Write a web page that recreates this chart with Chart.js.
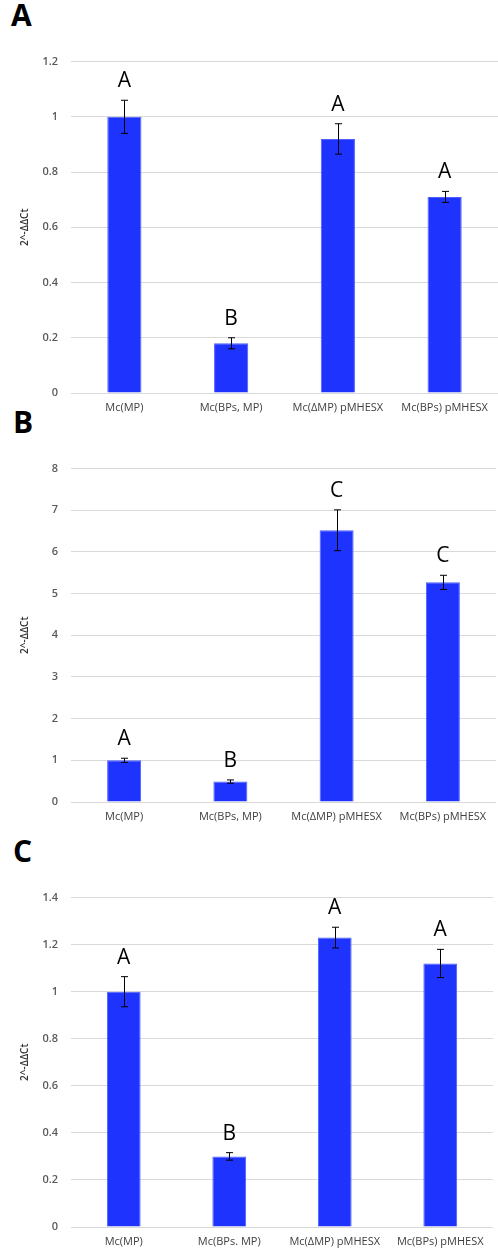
<!DOCTYPE html>
<html>
<head>
<meta charset="utf-8">
<script src="https://cdn.jsdelivr.net/npm/chart.js@4"></script>
<style>
  body { margin: 0; background: #fff; width: 498px; height: 1253px; position: relative; overflow: hidden; }
  .panel { position: absolute; left: 0; width: 498px; }
  .letra { position: absolute; font: bold 30px "Open Sans", "Liberation Sans", sans-serif; color: #000; }
</style>
</head>
<body>
<div class="letra" style="left:11px;top:-6px">A</div>
<div class="letra" style="left:13px;top:401px">B</div>
<div class="letra" style="left:13px;top:830px">C</div>
<div class="panel" style="top:42px;height:381px"><canvas id="graficoA"></canvas></div>
<div class="panel" style="top:449px;height:383px"><canvas id="graficoB"></canvas></div>
<div class="panel" style="top:878px;height:375px"><canvas id="graficoC"></canvas></div>
<script>
// Categorias (as mesmas nos três painéis)
const categorias = ["Mc(MP)", "Mc(BPs, MP)", "Mc(ΔMP) pMHESX", "Mc(BPs) pMHESX"];
const categoriasC = ["Mc(MP)", "Mc(BPs. MP)", "Mc(ΔMP) pMHESX", "Mc(BPs) pMHESX"];

// Painel A
const valoresA = [1.0, 0.18, 0.92, 0.71];
const errosA = [0.06, 0.02, 0.055, 0.02];
const letrasA = ["A", "B", "A", "A"];

// Painel B
const valoresB = [1.0, 0.49, 6.52, 5.27];
const errosB = [0.05, 0.04, 0.49, 0.17];
const letrasB = ["A", "B", "C", "C"];

// Painel C
const valoresC = [1.0, 0.3, 1.23, 1.12];
const errosC = [0.064, 0.016, 0.044, 0.06];
const letrasC = ["A", "B", "A", "A"];

const tituloY = "2^-ΔΔCt";

// Plugin simples para barras de erro e letras de significância
const pluginErros = {
    id: "erros",
    afterDatasetsDraw(chart, args, opts) {
        const ctx = chart.ctx;
        const meta = chart.getDatasetMeta(0);
        const y = chart.scales.y;
        ctx.save();
        meta.data.forEach((barra, i) => {
            const v = chart.data.datasets[0].data[i];
            const e = opts.erros[i];
            const yTop = y.getPixelForValue(v + e);
            const yBot = y.getPixelForValue(v - e);
            const x = Math.round(barra.x) + 0.5;
            ctx.strokeStyle = "#000";
            ctx.lineWidth = 1;
            ctx.beginPath();
            ctx.moveTo(x, yTop); ctx.lineTo(x, yBot);
            ctx.moveTo(x - 3.5, yTop); ctx.lineTo(x + 3.5, yTop);
            ctx.moveTo(x - 3.5, yBot); ctx.lineTo(x + 3.5, yBot);
            ctx.stroke();
            // letra acima da barra de erro
            ctx.fillStyle = "#000";
            ctx.font = '21px "Open Sans", "Liberation Sans", sans-serif';
            ctx.textAlign = "center";
            ctx.textBaseline = "alphabetic";
            ctx.fillText(opts.letras[i], barra.x, yTop - 13);
        });
        ctx.restore();
    }
};

function criaGrafico(id, labels, valores, erros, letras, maximo, passo, padDireita, alturaX) {
    const config = {
        type: "bar",
        data: {
            labels: labels,
            datasets: [{
                data: valores,
                backgroundColor: "#1f33ff",
                borderColor: "#4d5fff",
                borderWidth: 1,
                barPercentage: 0.32,
                categoryPercentage: 1
            }]
        },
        options: {
            responsive: true,
            maintainAspectRatio: false,
            animation: false,
            layout: { padding: { top: 10, right: padDireita, left: 0, bottom: 0 } },
            plugins: {
                legend: { display: false },
                tooltip: { enabled: false },
                erros: { erros: erros, letras: letras }
            },
            scales: {
                x: {
                    grid: { display: false, drawTicks: false },
                    border: { display: false },
                    ticks: {
                        color: "#404040",
                        font: { family: '"Open Sans", sans-serif', size: 11 },
                        maxRotation: 0,
                        autoSkip: false,
                        padding: 8
                    },
                    afterFit(scale) { scale.height = alturaX; }
                },
                y: {
                    min: 0,
                    max: maximo,
                    grid: { color: "#d9d9d9", lineWidth: 1, drawTicks: false },
                    border: { display: false },
                    ticks: {
                        stepSize: passo,
                        color: "#595959",
                        font: { family: '"Open Sans", sans-serif', size: 11, weight: "600" },
                        padding: 13,
                        // estilo do Excel: "1" em vez de "1.0"
                        callback: (v) => String(Number(v.toFixed(2)))
                    },
                    title: {
                        display: true,
                        text: tituloY,
                        color: "#333",
                        font: { family: '"Open Sans", sans-serif', size: 10, weight: "600" },
                        padding: { top: 19, bottom: 0 }
                    },
                    afterFit(scale) { scale.width = 71; }
                }
            }
        },
        plugins: [pluginErros]
    };
    return new Chart(document.getElementById(id).getContext("2d"), config);
}

criaGrafico("graficoA", categorias, valoresA, errosA, letrasA, 1.2, 0.2, 0, 30);
criaGrafico("graficoB", categorias, valoresB, errosB, letrasB, 8, 1, 2, 30);
criaGrafico("graficoC", categoriasC, valoresC, errosC, letrasC, 1.4, 0.2, 5, 26);
</script>
</body>
</html>
